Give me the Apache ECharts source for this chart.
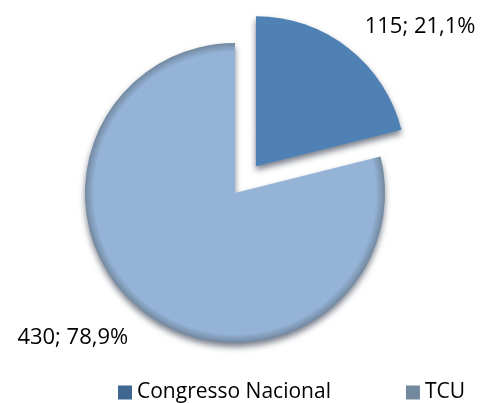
<!DOCTYPE html>
<html>
<head>
<meta charset="utf-8">
<script src="https://cdn.jsdelivr.net/npm/echarts@6/dist/echarts.min.js"></script>
<style>
  html, body { margin: 0; padding: 0; background: #fff; }
  #chart { width: 484px; height: 403px; }
</style>
</head>
<body>
<div id="chart"></div>
<script>
// dados
const categories = ['Congresso Nacional', 'TCU'];
const values = [115, 430];
const percents = ['21,1%', '78,9%'];
const colors = ['#4f81b4', '#95b3d7'];
const edgeColors = ['#3f6790', '#72889f'];

const cx = 235, cy = 193, R = 150, explode = 34;

const chart = echarts.init(document.getElementById('chart'));

// deslocamento da fatia destacada (para centrar o degradê)
const total = values.reduce((a, b) => a + b, 0);
const midAng = (values[0] / total) * Math.PI;
const off = [explode * Math.sin(midAng), -explode * Math.cos(midAng)];

const data = categories.map((name, i) => ({
  name: name,
  value: values[i],
  selected: i === 0,
  itemStyle: {
    color: {
      type: 'radial',
      global: true,
      x: cx + (i === 0 ? off[0] : 0),
      y: cy + (i === 0 ? off[1] : 0),
      r: R,
      colorStops: [
        { offset: 0, color: colors[i] },
        { offset: 0.94, color: colors[i] },
        { offset: 1, color: edgeColors[i] }
      ]
    }
  }
}));

// pequenos ajustes dos rótulos
const labelShift = [[-7, 2], [9, 3]];

chart.setOption({
  animation: false,
  textStyle: { fontFamily: 'Open Sans' },
  color: colors,
  legend: {
    data: categories,
    left: 113,
    top: 377,
    icon: 'rect',
    itemWidth: 14,
    itemHeight: 14,
    itemGap: 75,
    textStyle: { fontSize: 21, color: '#000', fontFamily: 'Open Sans' }
  },
  series: [
    {
      type: 'pie',
      center: [cx, cy],
      radius: R,
      startAngle: 90,
      clockwise: true,
      selectedMode: 'single',
      selectedOffset: explode,
      avoidLabelOverlap: false,
      itemStyle: {
        shadowBlur: 6,
        shadowOffsetY: 4,
        shadowColor: 'rgba(30,40,60,0.6)'
      },
      label: {
        show: true,
        position: 'outside',
        overflow: 'none',
        fontSize: 22,
        color: '#000',
        fontFamily: 'Open Sans',
        formatter: p => values[p.dataIndex] + '; ' + percents[p.dataIndex]
      },
      labelLine: { show: false, length: 30, length2: 0 },
      labelLayout: p => ({
        dx: labelShift[p.dataIndex][0],
        dy: labelShift[p.dataIndex][1]
      }),
      emphasis: { disabled: true },
      data: data
    }
  ]
});
</script>
</body>
</html>
